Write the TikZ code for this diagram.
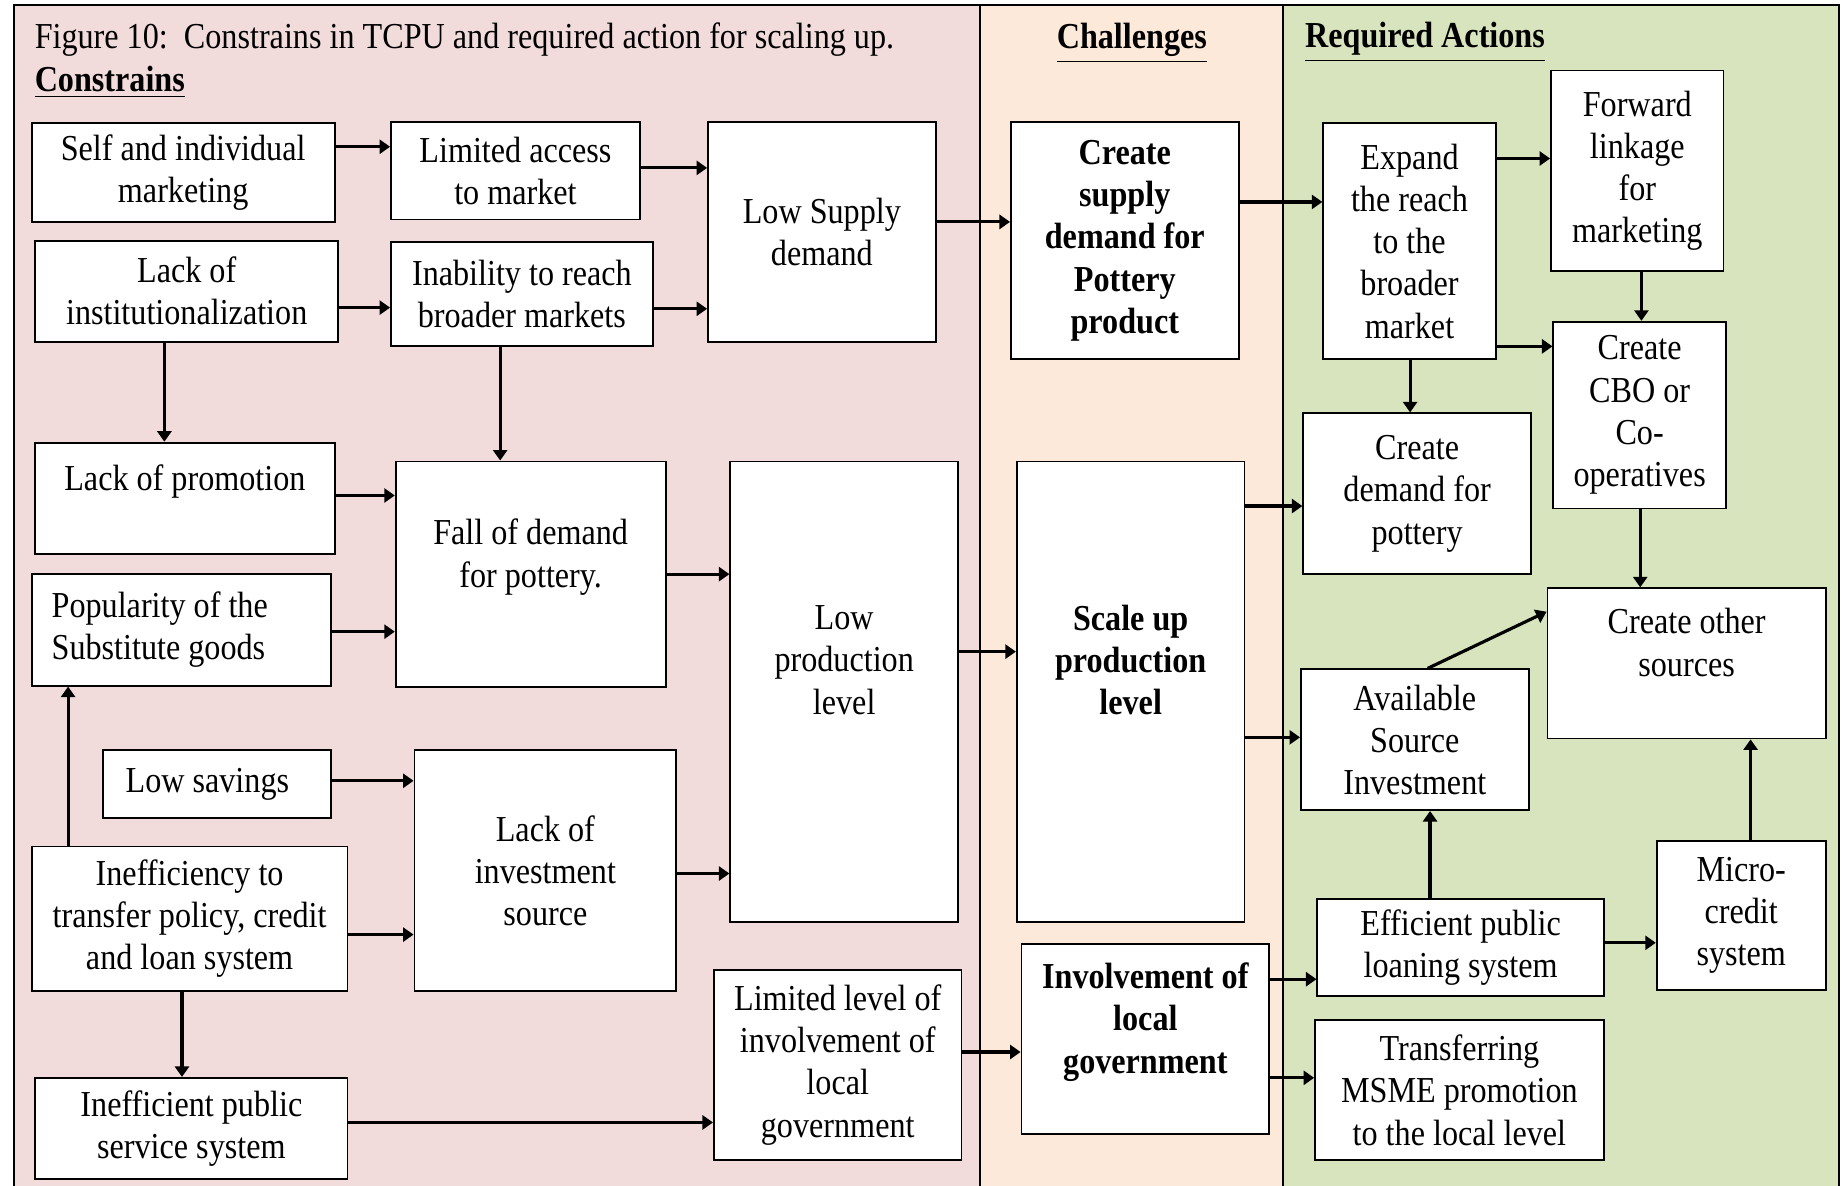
\documentclass[tikz,border=0pt]{standalone}
\usepackage{fontspec}
\setmainfont{Liberation Serif}[FakeStretch=0.88]
\usetikzlibrary{arrows.meta}
\newcommand\pxu{0.33406pt}
\definecolor{constrbg}{HTML}{F2DCDB}
\definecolor{challbg}{HTML}{FDE9D9}
\definecolor{actbg}{HTML}{D7E4BD}

\begin{document}
\begin{tikzpicture}
   [x=0.33406pt, y=-0.33406pt,
    box/.style={rectangle, draw, line width=0.5pt, fill=white, align=center,
      inner sep=2pt, font=\fontsize{10.4}{12}\selectfont},
    bold/.style={font=\fontsize{10.4}{12}\selectfont\bfseries},
    wh/.style 2 args={minimum width=#1*\pxu, minimum height=#2*\pxu},
    arr/.style={-{Triangle[length=3pt,width=4pt]}, line width=0.9pt},
    head/.style={font=\fontsize{10.4}{12}\selectfont, inner sep=0pt}]

\useasboundingbox (0,0) rectangle (1568,1010);

\fill [constrbg] (12,4) rectangle (835,1010);
\fill [challbg] (835,4) rectangle (1093,1010);
\fill [actbg] (1093,4) rectangle (1566,1010);
\draw [line width=0.6pt] (12,1010) -- (12,4) -- (1566,4) -- (1566,1010);
\draw [line width=0.6pt] (835,4) -- (835,1010) (1093,4) -- (1093,1010);

\node [head,anchor=west] (figtitle) at (29,34) {Figure 10:\ \ Constrains in TCPU and required action for scaling up.};
\node [head,anchor=west] (constr) at (29,70) {\bfseries\underline{Constrains}};
\node [head] (chall) at (964,37) {\bfseries\underline{Challenges}};
\node [head,anchor=west] (reqact) at (1111,36) {\bfseries\underline{Required Actions}};

\node [box,wh={258}{84}] (self) at (156,147) {Self and individual\\marketing};
\node [box,wh={212}{83}] (access) at (439,145.5) {Limited access\\to market};
\node [box,wh={194}{187}] (lowsupply) at (700,197.5) {Low Supply\\demand};
\node [box,wh={258}{86}] (institution) at (159,248) {Lack of\\institutionalization};
\node [box,wh={223}{89}] (inability) at (444.5,250.5) {Inability to reach\\broader markets};
\node [box,wh={255}{95}] (promotion) at (157.5,424.5) {Lack of promotion\\~};
\node [box,wh={230}{192}] (falldemand) at (452,489) {Fall of demand\\for pottery.\\~};
\node [box,wh={255}{95},align=flush left,text width=73.83pt,inner xsep=5.68pt] (substitute) at (154.5,536.5) {Popularity of the\\Substitute goods};
\node [box,wh={194}{392}] (lowprod) at (719,589) {Low\\production\\level\\[6pt]~};
\node [box,wh={194}{58},align=flush left,text width=52.11pt,inner xsep=6.35pt] (savings) at (185,668) {Low savings};
\node [box,wh={223}{205}] (investment) at (464.5,741.5) {Lack of\\investment\\source};
\node [box,wh={269}{123}] (inefficiency) at (161.5,782.5) {Inefficiency to\\transfer policy, credit\\and loan system};
\node [box,wh={266}{86}] (publicservice) at (163,961) {Inefficient public\\service system};
\node [box,wh={211}{162}] (limitedgov) at (713.5,907) {Limited level of\\involvement of\\local\\government};

\node [box,bold,wh={194}{202}] (createsupply) at (958,205) {Create\\supply\\demand for\\Pottery\\product};
\node [box,bold,wh={194}{392}] (scaleup) at (963,589) {Scale up\\production\\level\\[6pt]~};
\node [box,bold,wh={211}{162}] (involvement) at (975.5,885) {Involvement of\\local\\government\\~};

\node [box,wh={147}{201}] (expand) at (1200.5,205.5) {Expand\\the reach\\to the\\broader\\market};
\node [box,wh={147}{171}] (forward) at (1394.5,145.5) {Forward\\linkage\\for\\marketing};
\node [box,wh={147}{159}] (cbo) at (1396.5,353.5) {Create\\CBO or\\Co-\\operatives};
\node [box,wh={194}{137}] (createdemand) at (1207,420.5) {Create\\demand for\\pottery};
\node [box,wh={237}{128}] (othersrc) at (1436.5,565) {Create other\\sources\\~};
\node [box,wh={194}{120}] (available) at (1205,630) {Available\\Source\\Investment};
\node [box,wh={244}{82}] (efficient) at (1244,807) {Efficient public\\loaning system};
\node [box,wh={144}{127}] (micro) at (1483,779.5) {Micro-\\credit\\system};
\node [box,wh={246}{119}] (msme) at (1243,928.5) {Transferring\\MSME promotion\\to the local level};

\draw [arr] (self.east |- 0,125) -- (access.west |- 0,125);
\draw [arr] (access.east |- 0,143) -- (lowsupply.west |- 0,143);
\draw [arr] (institution.east |- 0,262) -- (inability.west |- 0,262);
\draw [arr] (inability.east |- 0,263) -- (lowsupply.west |- 0,263);
\draw [arr] (lowsupply.east |- 0,189) -- (createsupply.west |- 0,189);
\draw [arr] (institution.south -| 140,0) -- (promotion.north -| 140,0);
\draw [arr] (inability.south -| 426,0) -- (falldemand.north -| 426,0);
\draw [arr] (promotion.east |- 0,422) -- (falldemand.west |- 0,422);
\draw [arr] (substitute.east |- 0,538) -- (falldemand.west |- 0,538);
\draw [arr] (falldemand.east |- 0,489) -- (lowprod.west |- 0,489);
\draw [arr] (inefficiency.north -| 58,0) -- (substitute.south -| 58,0);
\draw [arr] (savings.east |- 0,665) -- (investment.west |- 0,665);
\draw [arr] (inefficiency.east |- 0,796) -- (investment.west |- 0,796);
\draw [arr] (investment.east |- 0,744) -- (lowprod.west |- 0,744);
\draw [arr] (inefficiency.south -| 155,0) -- (publicservice.north -| 155,0);
\draw [arr] (publicservice.east |- 0,956) -- (limitedgov.west |- 0,956);
\draw [arr] (lowprod.east |- 0,555) -- (scaleup.west |- 0,555);
\draw [arr] (limitedgov.east |- 0,896) -- (involvement.west |- 0,896);
\draw [arr] (createsupply.east |- 0,172) -- (expand.west |- 0,172);
\draw [arr] (expand.east |- 0,135) -- (forward.west |- 0,135);
\draw [arr] (expand.east |- 0,295) -- (cbo.west |- 0,295);
\draw [arr] (forward.south -| 1398,0) -- (cbo.north -| 1398,0);
\draw [arr] (expand.south -| 1201,0) -- (createdemand.north -| 1201,0);
\draw [arr] (scaleup.east |- 0,431) -- (createdemand.west |- 0,431);
\draw [arr] (scaleup.east |- 0,628) -- (available.west |- 0,628);
\draw [arr] (cbo.south -| 1397,0) -- (othersrc.north -| 1397,0);
\draw [arr] (available.north -| 1216,0) -- (othersrc.west |- 0,521);
\draw [arr] (efficient.north -| 1218,0) -- (available.south -| 1218,0);
\draw [arr] (efficient.east |- 0,803) -- (micro.west |- 0,803);
\draw [arr] (micro.north -| 1491,0) -- (othersrc.south -| 1491,0);
\draw [arr] (involvement.east |- 0,834) -- (efficient.west |- 0,834);
\draw [arr] (involvement.east |- 0,918) -- (msme.west |- 0,918);
\end{tikzpicture}
\end{document}
